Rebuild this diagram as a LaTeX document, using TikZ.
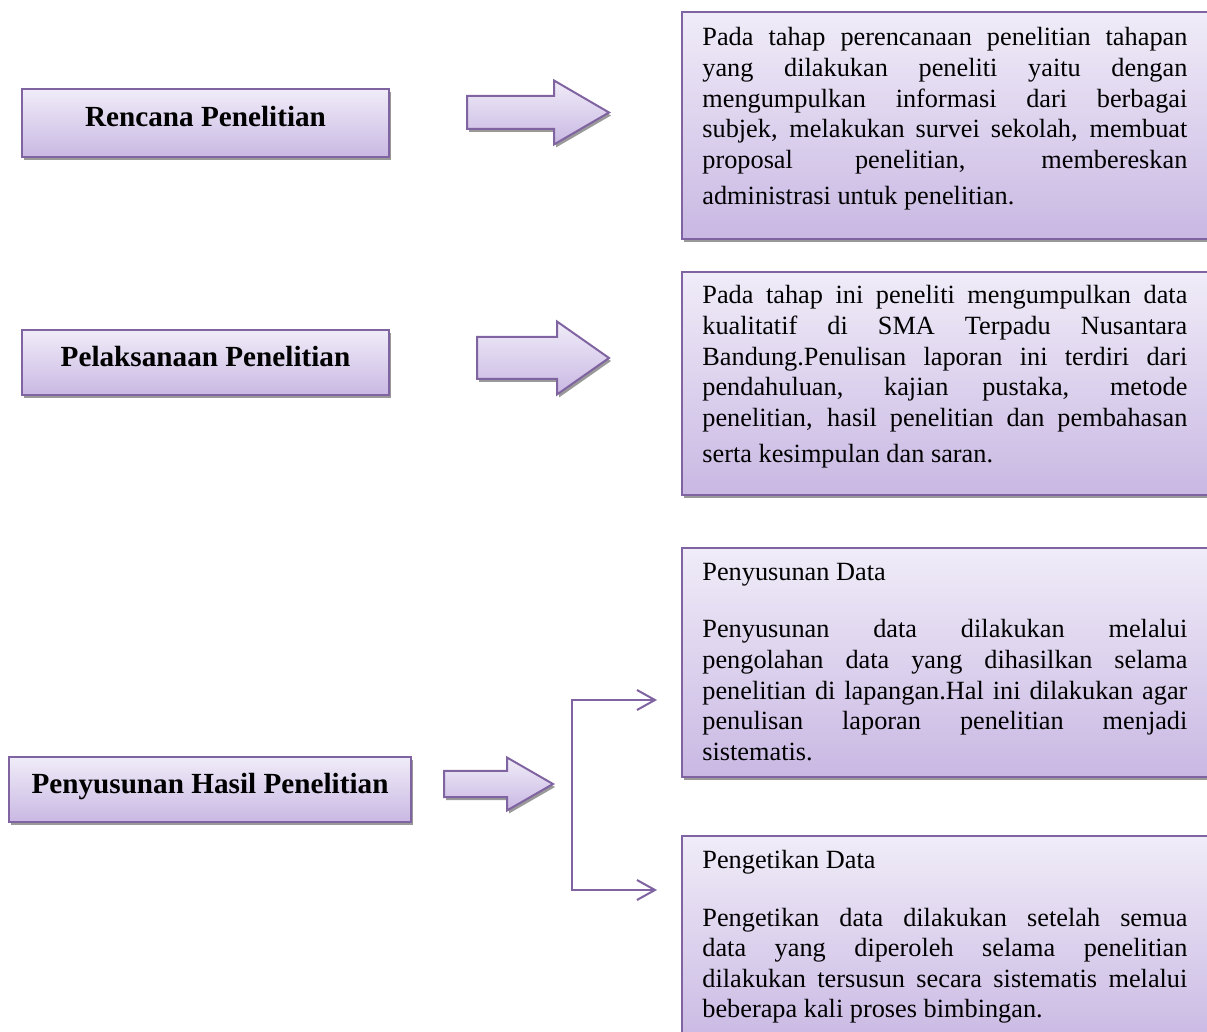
\documentclass[tikz,border=0pt]{standalone}
\usepackage{fontspec}
\setmainfont{Liberation Serif}
\usetikzlibrary{shadows,arrows.meta}
\definecolor{ungu}{HTML}{8064A2}
\definecolor{atas}{HTML}{F0ECF8}
\definecolor{bawah}{HTML}{C9B8E3}
\setlength{\parindent}{0pt}
\newcommand{\baris}[1]{\makebox[242.5pt][s]{\spaceskip=0pt\relax#1}}
\tikzset{
  kotak/.style={draw=ungu,line width=1pt,top color=atas,bottom color=bawah,inner sep=0pt,
    drop shadow={shadow xshift=1pt,shadow yshift=-1.5pt,fill=black!50,opacity=.8}},
  judul/.style={kotak,font=\fontsize{14.6}{17}\selectfont\bfseries,text height=0.7em,text depth=0.3em},
  isi/.style={font=\fontsize{13.15}{15.3}\selectfont,text width=242.5pt,align=justify,inner sep=0pt,anchor=base west},
  blok/.style={kotak,line join=miter},
  cabang/.style={draw=ungu,line width=1pt,arrows={Straight Barb[length=9pt,width=10pt]-Straight Barb[length=9pt,width=10pt]}}
}

\begin{document}
\begin{tikzpicture}[x=0.5pt,y=-0.5pt]
\useasboundingbox (0,0) rectangle (1207,1032);
\node[judul,minimum width=183.5pt,minimum height=34pt] (rencana) at (205.5,123) {Rencana Penelitian};
\node[judul,minimum width=183.5pt,minimum height=32.5pt] (pelaksanaan) at (205.5,362.5) {Pelaksanaan Penelitian};
\node[judul,minimum width=201pt,minimum height=32.5pt] (penyusunan) at (210,789.5) {Penyusunan Hasil Penelitian};
\node[kotak,anchor=north west,minimum width=265.5pt,minimum height=113.5pt] (ket1) at (681,11) {};
\node[kotak,anchor=north west,minimum width=265.5pt,minimum height=111.5pt] (ket2) at (681,271) {};
\node[kotak,anchor=north west,minimum width=265.5pt,minimum height=114.5pt] (ket3) at (681,547) {};
\node[kotak,anchor=north west,minimum width=265.5pt,minimum height=105pt] (ket4) at (681,835) {};
\foreach \xa/\xb/\xc/\yc/\s/\h in {467/554/609/112.5/16.5/32,477/557/609/358/21/36.5,444/507/553/784/13/26.5}
  \draw[blok] (\xa,\yc-\s) -- (\xb,\yc-\s) -- (\xb,\yc-\h) -- (\xc,\yc) -- (\xb,\yc+\h) -- (\xb,\yc+\s) -- (\xa,\yc+\s) -- cycle;
\coordinate (ujung1) at (657,700);
\coordinate (ujung2) at (657,890);
\draw[cabang] (ujung1) -- (572,700) -- (572,890) -- (ujung2);
\node[isi] (teks1) at (702,46) {\baris{Pada tahap perencanaan penelitian tahapan}\\
  \baris{yang dilakukan peneliti yaitu dengan}\\
  \baris{mengumpulkan informasi dari berbagai}\\
  \baris{subjek, melakukan survei sekolah, membuat}\\
  \baris{proposal penelitian, membereskan}\\[2.7pt]
  administrasi untuk penelitian.};
\node[isi] (teks2) at (702,304) {\baris{Pada tahap ini peneliti mengumpulkan data}\\
  \baris{kualitatif di SMA Terpadu Nusantara}\\
  \baris{Bandung.Penulisan laporan ini terdiri dari}\\
  \baris{pendahuluan, kajian pustaka, metode}\\
  \baris{penelitian, hasil penelitian dan pembahasan}\\[2.7pt]
  serta kesimpulan dan saran.};
\node[isi] (teks3) at (702,581) {Penyusunan Data\\[13.2pt]
  \baris{Penyusunan data dilakukan melalui}\\
  \baris{pengolahan data yang dihasilkan selama}\\
  \baris{penelitian di lapangan.Hal ini dilakukan agar}\\
  \baris{penulisan laporan penelitian menjadi}\\
  sistematis.};
\node[isi] (teks4) at (702,869) {Pengetikan Data\\[13.2pt]
  \baris{Pengetikan data dilakukan setelah semua}\\
  \baris{data yang diperoleh selama penelitian}\\
  \baris{dilakukan tersusun secara sistematis melalui}\\
  beberapa kali proses bimbingan.};
\end{tikzpicture}
\end{document}
